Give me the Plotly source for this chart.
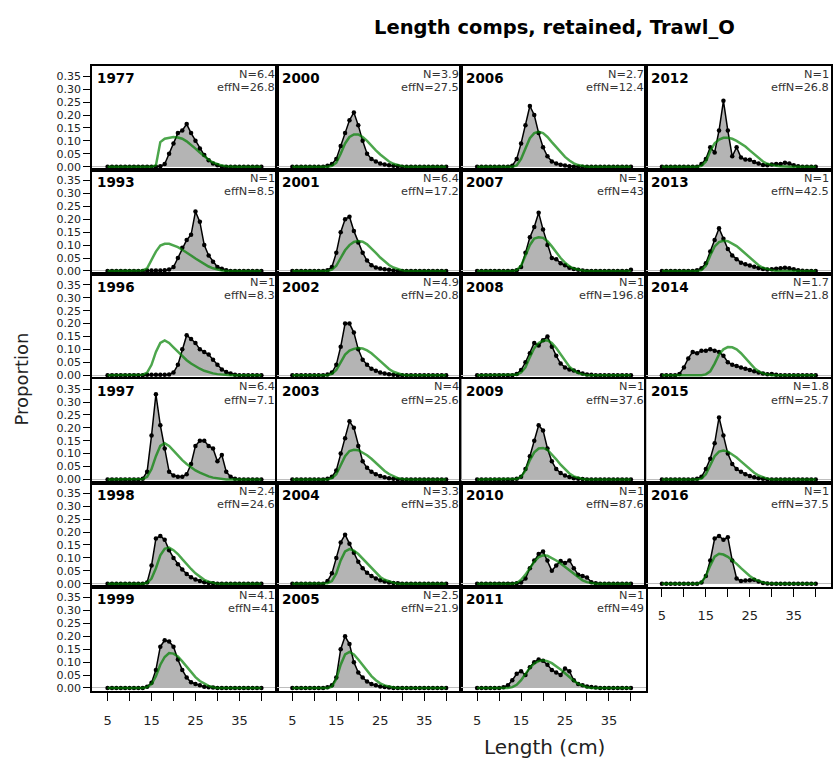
import plotly.graph_objects as go

# ---------------- data ----------------
length_bins = list(range(5, 41))

years = [1977, 1993, 1996, 1997, 1998, 1999,
         2000, 2001, 2002, 2003, 2004, 2005,
         2006, 2007, 2008, 2009, 2010, 2011,
         2012, 2013, 2014, 2015, 2016]
n_vals = ["6.4", "1", "1", "6.4", "2.4", "4.1",
          "3.9", "6.4", "4.9", "4", "3.3", "2.5",
          "2.7", "1", "1", "1", "1", "1",
          "1", "1", "1.7", "1.8", "1"]
effn_vals = ["26.8", "8.5", "8.3", "7.1", "24.6", "41",
             "27.5", "17.2", "20.8", "25.6", "35.8", "21.9",
             "12.4", "43", "196.8", "37.6", "87.6", "49",
             "26.8", "42.5", "21.8", "25.7", "37.5"]

x_tick_vals = [5, 10, 15, 20, 25, 30, 35, 40]
x_tick_text = ["5", "", "15", "", "25", "", "35", ""]
y_tick_vals = [0, 0.05, 0.10, 0.15, 0.20, 0.25, 0.30, 0.35]
y_tick_text = ["0.00", "0.05", "0.10", "0.15", "0.20", "0.25", "0.30", "0.35"]

#            5  6  7  8  9 10 11 12  13     14     15     16     17     18     19     20     21     22     23     24     25     26     27     28     29     30     31     32     33     34     35     36     37     38     39     40
obs_1977 = [0, 0, 0, 0, 0, 0, 0, 0, 0,     0,     0,     0,     0.002, 0.01,  0.05,  0.09,  0.13,  0.14,  0.165, 0.13,  0.10,  0.07,  0.045, 0.025, 0.012, 0.005, 0,     0,     0,     0,     0,     0,     0,     0,     0,     0]
exp_1977 = [0, 0, 0, 0, 0, 0, 0, 0, 0,     0,     0,     0.005, 0.095, 0.108, 0.113, 0.115, 0.113, 0.108, 0.098, 0.085, 0.07,  0.055, 0.04,  0.027, 0.016, 0.009, 0.004, 0.002, 0,     0,     0,     0,     0,     0,     0,     0]
obs_1993 = [0, 0, 0, 0, 0, 0, 0, 0, 0,     0.002, 0.002, 0.002, 0.002, 0.003, 0.005, 0.015, 0.05,  0.09,  0.12,  0.14,  0.23,  0.19,  0.10,  0.06,  0.035, 0.015, 0.008, 0.003, 0,     0,     0,     0,     0,     0,     0,     0]
exp_1993 = [0, 0, 0, 0, 0, 0, 0, 0, 0.002, 0.01,  0.04,  0.075, 0.098, 0.105, 0.105, 0.10,  0.092, 0.082, 0.072, 0.06,  0.048, 0.037, 0.026, 0.017, 0.01,  0.005, 0.002, 0,     0,     0,     0,     0,     0,     0,     0,     0]
obs_1996 = [0, 0, 0, 0, 0, 0, 0, 0, 0,     0.002, 0.002, 0.002, 0.002, 0.002, 0.003, 0.01,  0.04,  0.10,  0.155, 0.14,  0.125, 0.10,  0.09,  0.08,  0.06,  0.04,  0.022, 0.012, 0.006, 0.002, 0,     0,     0,     0,     0,     0]
exp_1996 = [0, 0, 0, 0, 0, 0, 0, 0, 0.002, 0.01,  0.04,  0.09,  0.125, 0.135, 0.125, 0.108, 0.09,  0.073, 0.058, 0.045, 0.034, 0.025, 0.017, 0.011, 0.007, 0.004, 0.002, 0,     0,     0,     0,     0,     0,     0,     0,     0]
obs_1997 = [0, 0, 0, 0, 0, 0, 0, 0, 0.003, 0.03,  0.17,  0.33,  0.21,  0.12,  0.03,  0.015, 0.01,  0.01,  0.02,  0.06,  0.13,  0.15,  0.15,  0.13,  0.12,  0.07,  0.095, 0.03,  0.01,  0.003, 0,     0,     0,     0,     0,     0]
exp_1997 = [0, 0, 0, 0, 0, 0, 0, 0, 0.002, 0.01,  0.04,  0.09,  0.13,  0.14,  0.13,  0.112, 0.093, 0.075, 0.06,  0.047, 0.035, 0.026, 0.018, 0.012, 0.007, 0.004, 0.002, 0,     0,     0,     0,     0,     0,     0,     0,     0]
obs_1998 = [0, 0, 0, 0, 0, 0, 0, 0, 0,     0.005, 0.07,  0.175, 0.185, 0.17,  0.13,  0.10,  0.075, 0.055, 0.038, 0.025, 0.016, 0.01,  0.006, 0.003, 0.002, 0,     0,     0,     0,     0,     0,     0,     0,     0,     0,     0]
exp_1998 = [0, 0, 0, 0, 0, 0, 0, 0, 0,     0.003, 0.02,  0.06,  0.11,  0.135, 0.14,  0.13,  0.115, 0.095, 0.075, 0.057, 0.04,  0.026, 0.015, 0.008, 0.003, 0,     0,     0,     0,     0,     0,     0,     0,     0,     0,     0]
obs_1999 = [0, 0, 0, 0, 0, 0, 0, 0, 0,     0.005, 0.02,  0.07,  0.16,  0.185, 0.18,  0.16,  0.11,  0.07,  0.04,  0.022, 0.015, 0.01,  0.005, 0.003, 0.002, 0,     0,     0,     0,     0,     0,     0,     0,     0,     0,     0]
exp_1999 = [0, 0, 0, 0, 0, 0, 0, 0, 0,     0.003, 0.015, 0.045, 0.09,  0.12,  0.135, 0.133, 0.122, 0.103, 0.082, 0.06,  0.042, 0.027, 0.016, 0.008, 0.003, 0,     0,     0,     0,     0,     0,     0,     0,     0,     0,     0]
obs_2000 = [0, 0, 0, 0, 0, 0, 0, 0, 0.003, 0.01,  0.03,  0.08,  0.13,  0.18,  0.21,  0.16,  0.10,  0.05,  0.03,  0.02,  0.012, 0.008, 0.005, 0.003, 0.002, 0,     0,     0,     0,     0,     0,     0,     0,     0,     0,     0]
exp_2000 = [0, 0, 0, 0, 0, 0, 0, 0, 0,     0.003, 0.015, 0.05,  0.09,  0.115, 0.125, 0.125, 0.115, 0.10,  0.08,  0.063, 0.047, 0.032, 0.02,  0.011, 0.005, 0.002, 0,     0,     0,     0,     0,     0,     0,     0,     0,     0]
obs_2001 = [0, 0, 0, 0, 0, 0, 0, 0, 0.003, 0.015, 0.07,  0.15,  0.20,  0.21,  0.155, 0.11,  0.07,  0.04,  0.022, 0.013, 0.009, 0.006, 0.004, 0.002, 0,     0,     0,     0,     0,     0,     0,     0,     0,     0,     0,     0]
exp_2001 = [0, 0, 0, 0, 0, 0, 0, 0, 0,     0.005, 0.02,  0.05,  0.08,  0.10,  0.112, 0.116, 0.113, 0.103, 0.088, 0.07,  0.052, 0.036, 0.023, 0.013, 0.006, 0.002, 0,     0,     0,     0,     0,     0,     0,     0,     0,     0]
obs_2002 = [0, 0, 0, 0, 0, 0, 0, 0, 0.003, 0.01,  0.04,  0.11,  0.20,  0.20,  0.165, 0.10,  0.06,  0.04,  0.025, 0.017, 0.01,  0.006, 0.004, 0.002, 0,     0,     0,     0,     0,     0,     0,     0,     0,     0,     0,     0]
exp_2002 = [0, 0, 0, 0, 0, 0, 0, 0, 0,     0.005, 0.02,  0.05,  0.08,  0.095, 0.102, 0.105, 0.103, 0.096, 0.085, 0.07,  0.054, 0.038, 0.024, 0.013, 0.006, 0.002, 0,     0,     0,     0,     0,     0,     0,     0,     0,     0]
obs_2003 = [0, 0, 0, 0, 0, 0, 0, 0, 0.003, 0.01,  0.035, 0.10,  0.16,  0.225, 0.20,  0.13,  0.07,  0.045, 0.03,  0.02,  0.013, 0.008, 0.005, 0.003, 0,     0,     0,     0,     0,     0,     0,     0,     0,     0,     0,     0]
exp_2003 = [0, 0, 0, 0, 0, 0, 0, 0, 0,     0.005, 0.02,  0.055, 0.09,  0.11,  0.115, 0.113, 0.105, 0.094, 0.08,  0.064, 0.048, 0.033, 0.021, 0.012, 0.005, 0.002, 0,     0,     0,     0,     0,     0,     0,     0,     0,     0]
obs_2004 = [0, 0, 0, 0, 0, 0, 0, 0, 0.01,  0.04,  0.10,  0.16,  0.19,  0.155, 0.12,  0.085, 0.06,  0.042, 0.03,  0.02,  0.013, 0.008, 0.005, 0.003, 0.002, 0,     0,     0,     0,     0,     0,     0,     0,     0,     0,     0]
exp_2004 = [0, 0, 0, 0, 0, 0, 0, 0, 0.002, 0.01,  0.04,  0.09,  0.125, 0.134, 0.128, 0.115, 0.097, 0.077, 0.058, 0.04,  0.026, 0.015, 0.008, 0.004, 0,     0,     0,     0,     0,     0,     0,     0,     0,     0,     0,     0]
obs_2005 = [0, 0, 0, 0, 0, 0, 0, 0, 0.003, 0.01,  0.04,  0.15,  0.20,  0.17,  0.10,  0.06,  0.04,  0.025, 0.015, 0.01,  0.006, 0.004, 0.002, 0,     0,     0,     0,     0,     0,     0,     0,     0,     0,     0,     0,     0]
exp_2005 = [0, 0, 0, 0, 0, 0, 0, 0, 0,     0.005, 0.035, 0.09,  0.13,  0.14,  0.13,  0.11,  0.088, 0.066, 0.046, 0.03,  0.018, 0.01,  0.005, 0.002, 0,     0,     0,     0,     0,     0,     0,     0,     0,     0,     0,     0]
obs_2006 = [0, 0, 0, 0, 0, 0, 0, 0, 0.003, 0.03,  0.09,  0.16,  0.235, 0.20,  0.13,  0.075, 0.04,  0.02,  0.012, 0.007, 0.004, 0.002, 0,     0,     0,     0,     0,     0,     0,     0,     0,     0,     0,     0,     0,     0]
exp_2006 = [0, 0, 0, 0, 0, 0, 0, 0, 0,     0.005, 0.03,  0.07,  0.11,  0.13,  0.135, 0.13,  0.115, 0.095, 0.075, 0.055, 0.038, 0.024, 0.013, 0.006, 0.002, 0,     0,     0,     0,     0,     0,     0,     0,     0,     0,     0]
obs_2007 = [0, 0, 0, 0, 0, 0, 0, 0, 0,     0.003, 0.015, 0.07,  0.13,  0.17,  0.225, 0.16,  0.10,  0.05,  0.045, 0.03,  0.022, 0.012, 0.007, 0.004, 0.002, 0,     0,     0,     0,     0,     0,     0,     0,     0,     0,     0.004]
exp_2007 = [0, 0, 0, 0, 0, 0, 0, 0, 0,     0.003, 0.02,  0.06,  0.10,  0.125, 0.13,  0.128, 0.115, 0.095, 0.072, 0.05,  0.032, 0.018, 0.009, 0.004, 0.002, 0,     0,     0,     0,     0,     0,     0,     0,     0,     0,     0]
obs_2008 = [0, 0, 0, 0, 0, 0, 0, 0, 0,     0.005, 0.02,  0.05,  0.085, 0.125, 0.115, 0.135, 0.15,  0.11,  0.075, 0.045, 0.03,  0.022, 0.018, 0.012, 0.006, 0.003, 0.002, 0,     0,     0,     0,     0,     0,     0,     0,     0]
exp_2008 = [0, 0, 0, 0, 0, 0, 0, 0, 0,     0.002, 0.01,  0.03,  0.07,  0.105, 0.125, 0.133, 0.135, 0.125, 0.105, 0.08,  0.055, 0.033, 0.018, 0.008, 0.003, 0,     0,     0,     0,     0,     0,     0,     0,     0,     0,     0]
obs_2009 = [0, 0, 0, 0, 0, 0, 0, 0, 0,     0.003, 0.01,  0.04,  0.09,  0.15,  0.21,  0.19,  0.12,  0.07,  0.04,  0.025, 0.015, 0.009, 0.005, 0.003, 0.002, 0,     0,     0,     0,     0,     0,     0,     0,     0,     0,     0]
exp_2009 = [0, 0, 0, 0, 0, 0, 0, 0, 0,     0.002, 0.01,  0.035, 0.075, 0.105, 0.12,  0.122, 0.115, 0.098, 0.078, 0.057, 0.038, 0.023, 0.012, 0.006, 0.002, 0,     0,     0,     0,     0,     0,     0,     0,     0,     0,     0]
obs_2010 = [0, 0, 0, 0, 0, 0, 0, 0, 0,     0.002, 0.005, 0.02,  0.06,  0.09,  0.115, 0.125, 0.09,  0.05,  0.07,  0.088, 0.08,  0.09,  0.06,  0.035, 0.03,  0.024, 0.006, 0.002, 0,     0,     0,     0,     0,     0,     0,     0]
exp_2010 = [0, 0, 0, 0, 0, 0, 0, 0, 0,     0.003, 0.015, 0.035, 0.06,  0.085, 0.103, 0.11,  0.108, 0.10,  0.09,  0.078, 0.065, 0.05,  0.036, 0.023, 0.013, 0.006, 0.002, 0,     0,     0,     0,     0,     0,     0,     0,     0]
obs_2011 = [0, 0, 0, 0, 0, 0, 0.003, 0.01, 0.03, 0.055, 0.065, 0.05,  0.08,  0.10,  0.11,  0.105, 0.09,  0.07,  0.06,  0.05,  0.075, 0.065, 0.03,  0.015, 0.01,  0.006, 0.004, 0.002, 0,     0,     0,     0,     0,     0,     0,     0]
exp_2011 = [0, 0, 0, 0, 0, 0, 0, 0, 0.003, 0.012, 0.03,  0.055, 0.078, 0.095, 0.104, 0.107, 0.104, 0.096, 0.085, 0.072, 0.057, 0.042, 0.028, 0.016, 0.008, 0.003, 0,     0,     0,     0,     0,     0,     0,     0,     0,     0]
obs_2012 = [0, 0, 0, 0, 0, 0, 0, 0, 0,     0.01,  0.03,  0.075, 0.055, 0.14,  0.255, 0.14,  0.04,  0.075, 0.035, 0.028, 0.027, 0.018, 0.012, 0.006, 0.005, 0.008, 0.01,  0.01,  0.015, 0.012, 0.005, 0.002, 0,     0,     0,     0]
exp_2012 = [0, 0, 0, 0, 0, 0, 0, 0, 0,     0.003, 0.02,  0.06,  0.09,  0.105, 0.112, 0.112, 0.108, 0.10,  0.09,  0.078, 0.063, 0.048, 0.033, 0.02,  0.011, 0.006, 0.003, 0.002, 0,     0,     0,     0,     0,     0,     0,     0]
obs_2013 = [0, 0, 0, 0, 0, 0, 0, 0, 0.003, 0.01,  0.03,  0.075, 0.12,  0.165, 0.125, 0.085, 0.06,  0.045, 0.032, 0.026, 0.021, 0.016, 0.011, 0.007, 0.005, 0.006, 0.008, 0.01,  0.012, 0.01,  0.006, 0.003, 0.001, 0,     0,     0]
exp_2013 = [0, 0, 0, 0, 0, 0, 0, 0, 0,     0.003, 0.02,  0.06,  0.095, 0.112, 0.117, 0.115, 0.107, 0.096, 0.082, 0.066, 0.05,  0.035, 0.022, 0.012, 0.006, 0.003, 0,     0,     0,     0,     0,     0,     0,     0,     0,     0]
obs_2014 = [0, 0, 0, 0, 0.005, 0.03, 0.065, 0.09, 0.085, 0.095, 0.095, 0.10, 0.095, 0.09,  0.075, 0.05,  0.04,  0.036, 0.03,  0.025, 0.02,  0.015, 0.01,  0.006, 0.004, 0.005, 0.002, 0,     0,     0,     0,     0,     0,     0,     0,     0]
exp_2014 = [0, 0, 0, 0, 0, 0, 0, 0, 0,     0,     0.003, 0.015, 0.045, 0.08,  0.10,  0.109, 0.108, 0.10,  0.085, 0.065, 0.045, 0.028, 0.015, 0.007, 0.003, 0,     0,     0,     0,     0,     0,     0,     0,     0,     0,     0]
obs_2015 = [0, 0, 0, 0, 0, 0, 0, 0, 0.003, 0.01,  0.04,  0.08,  0.14,  0.24,  0.17,  0.10,  0.06,  0.04,  0.03,  0.02,  0.013, 0.008, 0.005, 0.003, 0,     0,     0,     0,     0,     0,     0,     0,     0,     0,     0,     0]
exp_2015 = [0, 0, 0, 0, 0, 0, 0, 0, 0,     0.003, 0.02,  0.055, 0.09,  0.108, 0.112, 0.108, 0.098, 0.085, 0.07,  0.054, 0.039, 0.026, 0.015, 0.008, 0.003, 0,     0,     0,     0,     0,     0,     0,     0,     0,     0,     0]
obs_2016 = [0, 0, 0, 0, 0, 0, 0, 0, 0,     0.005, 0.03,  0.09,  0.175, 0.185, 0.17,  0.18,  0.09,  0.02,  0.01,  0.012, 0.013, 0.015, 0.008, 0.003, 0.001, 0,     0,     0,     0,     0,     0,     0,     0,     0,     0,     0]
exp_2016 = [0, 0, 0, 0, 0, 0, 0, 0, 0,     0.005, 0.03,  0.07,  0.105, 0.116, 0.113, 0.104, 0.092, 0.077, 0.06,  0.044, 0.03,  0.018, 0.01,  0.005, 0.002, 0,     0,     0,     0,     0,     0,     0,     0,     0,     0,     0]

observed = [obs_1977, obs_1993, obs_1996, obs_1997, obs_1998, obs_1999,
            obs_2000, obs_2001, obs_2002, obs_2003, obs_2004, obs_2005,
            obs_2006, obs_2007, obs_2008, obs_2009, obs_2010, obs_2011,
            obs_2012, obs_2013, obs_2014, obs_2015, obs_2016]
expected = [exp_1977, exp_1993, exp_1996, exp_1997, exp_1998, exp_1999,
            exp_2000, exp_2001, exp_2002, exp_2003, exp_2004, exp_2005,
            exp_2006, exp_2007, exp_2008, exp_2009, exp_2010, exp_2011,
            exp_2012, exp_2013, exp_2014, exp_2015, exp_2016]
for s in observed + expected:
    assert len(s) == len(length_bins), len(s)

# ---------------- layout ----------------
W, H = 833, 767
COL_LEFT = [92, 277, 462, 647]
COL_W = 185
ROW_TOP = 66
ROW_H = 104.67
NROW = 6
X_RANGE = [1.43, 43.48]
Y_RANGE = [-0.013, 0.391]
FONT = "DejaVu Sans, Liberation Sans, Arial, sans-serif"
FILL = "#b4b4b4"
GREEN = "rgba(0,128,0,0.7)"


def fx(px):
    return px / W


def fy(py):
    return 1 - py / H


fig = go.Figure()
annotations = []
layout_axes = {}

for i, yr in enumerate(years):
    k = i + 1
    col, row = i // NROW, i % NROW
    left = COL_LEFT[col]
    right = left + COL_W
    top = ROW_TOP + row * ROW_H
    bottom = top + ROW_H
    xa = "x" if k == 1 else f"x{k}"
    ya = "y" if k == 1 else f"y{k}"
    xkey = "xaxis" if k == 1 else f"xaxis{k}"
    ykey = "yaxis" if k == 1 else f"yaxis{k}"
    bottom_axis = (row == NROW - 1) or (yr == 2016)

    layout_axes[xkey] = dict(
        domain=[fx(left), fx(right)], range=X_RANGE, anchor=ya,
        showgrid=False, zeroline=False,
        showline=True, mirror=True, linecolor="black", linewidth=1.5,
        ticks="outside" if bottom_axis else "", ticklen=8, tickwidth=1,
        tickcolor="black",
        tickvals=x_tick_vals, ticktext=x_tick_text,
        showticklabels=bottom_axis, ticklabelstandoff=8,
        tickfont=dict(family=FONT, size=13, color="#222"),
    )
    layout_axes[ykey] = dict(
        domain=[fy(bottom), fy(top)], range=Y_RANGE, anchor=xa,
        showgrid=False,
        zeroline=True, zerolinecolor="#bebebe", zerolinewidth=1,
        showline=True, mirror=True, linecolor="black", linewidth=1.5,
        ticks="outside" if col == 0 else "", ticklen=7, tickwidth=1,
        tickcolor="black",
        tickvals=y_tick_vals, ticktext=y_tick_text,
        showticklabels=(col == 0),
        tickfont=dict(family=FONT, size=11, color="#222"),
    )

    fig.add_trace(go.Scatter(
        x=length_bins, y=observed[i], xaxis=xa, yaxis=ya,
        mode="lines+markers", fill="tozeroy", fillcolor=FILL,
        line=dict(color="black", width=1.5),
        marker=dict(color="black", size=4.5),
        showlegend=False, hoverinfo="skip",
    ))
    fig.add_trace(go.Scatter(
        x=length_bins, y=expected[i], xaxis=xa, yaxis=ya,
        mode="lines", line=dict(color=GREEN, width=2.5),
        showlegend=False, hoverinfo="skip",
    ))

    annotations.append(dict(
        x=fx(left + 4), y=fy(top + 12.5), xref="paper", yref="paper",
        text=f"<b>{yr}</b>", showarrow=False, xanchor="left", yanchor="middle",
        borderpad=0, font=dict(family=FONT, size=13.5, color="black"),
    ))
    annotations.append(dict(
        x=fx(right - 1), y=fy(top + 8.5), xref="paper", yref="paper",
        text=f"N={n_vals[i]}", showarrow=False, xanchor="right", yanchor="middle",
        borderpad=0, font=dict(family=FONT, size=11.3, color="#333"),
    ))
    annotations.append(dict(
        x=fx(right - 1), y=fy(top + 21.8), xref="paper", yref="paper",
        text=f"effN={effn_vals[i]}", showarrow=False, xanchor="right", yanchor="middle",
        borderpad=0, font=dict(family=FONT, size=11.3, color="#333"),
    ))

annotations.append(dict(
    x=fx(555), y=fy(28), xref="paper", yref="paper",
    text="<b>Length comps, retained, Trawl_O</b>", showarrow=False,
    xanchor="center", yanchor="middle",
    font=dict(family=FONT, size=19.5, color="black"),
))
annotations.append(dict(
    x=fx(22), y=fy(380), xref="paper", yref="paper",
    text="Proportion", showarrow=False, textangle=-90,
    xanchor="center", yanchor="middle",
    font=dict(family=FONT, size=18, color="#222"),
))
annotations.append(dict(
    x=fx(545), y=fy(750), xref="paper", yref="paper",
    text="Length (cm)", showarrow=False,
    xanchor="center", yanchor="middle",
    font=dict(family=FONT, size=20, color="#222"),
))

fig.update_layout(
    width=W, height=H, margin=dict(l=0, r=0, t=0, b=0),
    paper_bgcolor="white", plot_bgcolor="white",
    annotations=annotations, **layout_axes,
)

fig.write_html("out.html")
